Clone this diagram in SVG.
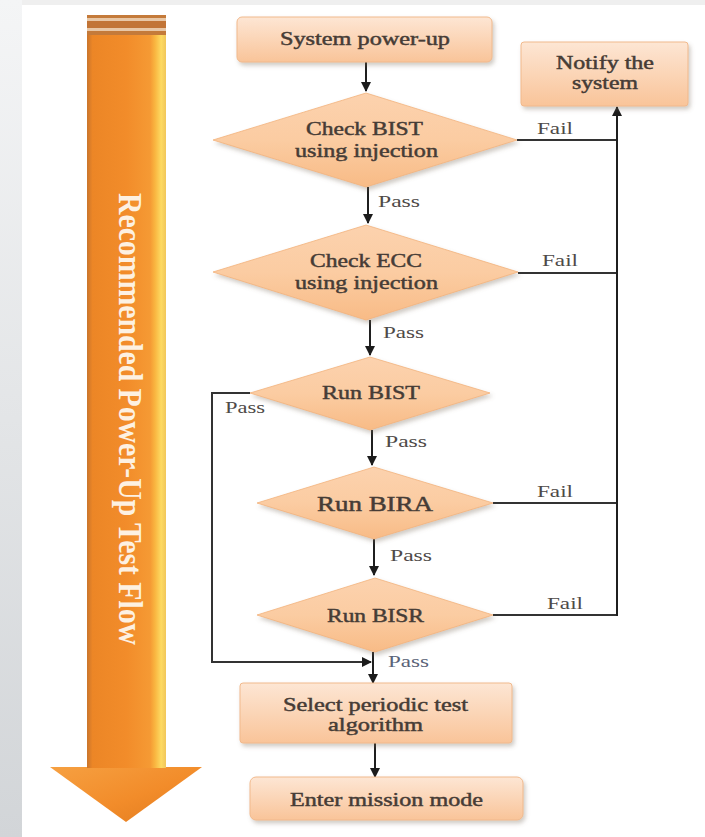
<svg xmlns="http://www.w3.org/2000/svg" width="705" height="837" viewBox="0 0 705 837">
  <defs>
    <linearGradient id="sideBg" x1="0" y1="0" x2="0" y2="1">
      <stop offset="0" stop-color="#f4f5f6"/>
      <stop offset="1" stop-color="#d2d5d8"/>
    </linearGradient>
    <linearGradient id="boxFill" x1="0" y1="0" x2="0" y2="1">
      <stop offset="0" stop-color="#fde6d4"/>
      <stop offset="1" stop-color="#f9c499"/>
    </linearGradient>
    <linearGradient id="diaFill" x1="0" y1="0" x2="0" y2="1">
      <stop offset="0" stop-color="#fcd2ae"/>
      <stop offset="0.5" stop-color="#fbcca2"/>
      <stop offset="1" stop-color="#f8bb86"/>
    </linearGradient>
    <linearGradient id="shaft" x1="0" y1="0" x2="1" y2="0">
      <stop offset="0" stop-color="#c9752c"/>
      <stop offset="0.07" stop-color="#ec8626"/>
      <stop offset="0.5" stop-color="#f28c2a"/>
      <stop offset="0.8" stop-color="#f59a34"/>
      <stop offset="0.86" stop-color="#f9b540"/>
      <stop offset="0.94" stop-color="#fdda62"/>
      <stop offset="1" stop-color="#f1c65a"/>
    </linearGradient>
    <linearGradient id="head" x1="0" y1="0" x2="1" y2="1">
      <stop offset="0" stop-color="#f6a041"/>
      <stop offset="0.55" stop-color="#f28c2a"/>
      <stop offset="1" stop-color="#e07a1e"/>
    </linearGradient>
    <filter id="shadow" x="-10%" y="-20%" width="125%" height="150%">
      <feDropShadow dx="2" dy="3" stdDeviation="2" flood-color="#7a6a5a" flood-opacity="0.35"/>
    </filter>
    <marker id="arrow" viewBox="0 0 10 10" refX="9" refY="5" markerWidth="10" markerHeight="10" markerUnits="userSpaceOnUse" orient="auto">
      <path d="M0,0 L10,5 L0,10 Z" fill="#1c1c1c"/>
    </marker>
  </defs>
  <style>
    .box { fill: url(#boxFill); stroke: #f1b98c; stroke-width: 1; filter: url(#shadow); }
    .dia { fill: url(#diaFill); stroke: #f3b27c; stroke-width: 0.8; filter: url(#shadow); }
    .lbl { font-family: "Liberation Serif", "Times New Roman", serif; font-size: 18px; fill: #463c36; stroke: #463c36; stroke-width: 0.45; }
    .big { font-size: 20px; }
    .tag { font-family: "Liberation Serif", "Times New Roman", serif; font-size: 16px; fill: #4e4a48; }
    .pass2 { fill: #5a6478; }
    .flow { fill: none; stroke: #1f1f1f; stroke-width: 2; }
    .fail { fill: none; stroke: #333333; stroke-width: 2; }
    .title { font-family: "Liberation Serif", "Times New Roman", serif; font-weight: bold; font-size: 28px; fill: #fdf1e2; }
  </style>

  <!-- page background -->
  <rect x="0" y="0" width="705" height="837" fill="#ffffff"/>
  <rect x="0" y="0" width="705" height="5" fill="#efefef"/>
  <rect x="0" y="0" width="22" height="837" fill="url(#sideBg)"/>

  <!-- big downward arrow with title -->
  <g id="flow-arrow">
    <polygon points="50,767 202,767 126,822" fill="url(#head)"/>
    <rect x="87" y="15" width="79" height="753" fill="url(#shaft)"/>
    <rect x="87" y="15" width="79" height="3" fill="#c47a3a"/>
    <rect x="87" y="18" width="79" height="3" fill="#e8c7a6"/>
    <rect x="87" y="21" width="79" height="7" fill="#c27436"/>
    <rect x="87" y="28" width="79" height="3" fill="#e8c7a6"/>
    <rect x="87" y="31" width="79" height="4" fill="#c47a3a"/>
    <text class="title" transform="translate(119,193) rotate(90) scale(1,1.2)" x="0" y="0" textLength="452" lengthAdjust="spacingAndGlyphs">Recommended Power-Up Test Flow</text>
  </g>

  <!-- connectors -->
  <g id="connectors">
    <line class="flow" x1="366" y1="62" x2="366" y2="91" marker-end="url(#arrow)"/>
    <line class="flow" x1="368" y1="187" x2="368" y2="223" marker-end="url(#arrow)"/>
    <line class="flow" x1="370" y1="320" x2="370" y2="355" marker-end="url(#arrow)"/>
    <line class="flow" x1="372" y1="430" x2="372" y2="465" marker-end="url(#arrow)"/>
    <line class="flow" x1="374" y1="539" x2="374" y2="575" marker-end="url(#arrow)"/>
    <line class="flow" x1="373" y1="652" x2="373" y2="683" marker-end="url(#arrow)"/>
    <line class="flow" x1="375" y1="743" x2="375" y2="777" marker-end="url(#arrow)"/>
    <!-- bypass loop from Run BIST -->
    <polyline class="fail" points="250,393 212,393 212,662 371,662" marker-end="url(#arrow)"/>
    <!-- fail paths to notify -->
    <line class="fail" x1="517" y1="140" x2="618" y2="140"/>
    <line class="fail" x1="518" y1="273" x2="618" y2="273"/>
    <line class="fail" x1="493" y1="503" x2="618" y2="503"/>
    <line class="fail" x1="493" y1="615" x2="618" y2="615"/>
    <polyline class="flow" points="617,616 617,107" marker-end="url(#arrow)"/>
    <!-- labels -->
    <text class="tag" x="537" y="134" textLength="36" lengthAdjust="spacingAndGlyphs">Fail</text>
    <text class="tag" x="542" y="266" textLength="36" lengthAdjust="spacingAndGlyphs">Fail</text>
    <text class="tag" x="537" y="497" textLength="36" lengthAdjust="spacingAndGlyphs">Fail</text>
    <text class="tag" x="547" y="609" textLength="36" lengthAdjust="spacingAndGlyphs">Fail</text>
    <text class="tag" x="378" y="207" textLength="42" lengthAdjust="spacingAndGlyphs">Pass</text>
    <text class="tag" x="383" y="338" textLength="41" lengthAdjust="spacingAndGlyphs">Pass</text>
    <text class="tag" x="385" y="447" textLength="42" lengthAdjust="spacingAndGlyphs">Pass</text>
    <text class="tag" x="390" y="561" textLength="42" lengthAdjust="spacingAndGlyphs">Pass</text>
    <text class="tag pass2" x="388" y="667" textLength="41" lengthAdjust="spacingAndGlyphs">Pass</text>
    <text class="tag" x="225" y="413" textLength="40" lengthAdjust="spacingAndGlyphs">Pass</text>
  </g>

  <g id="power-up">
    <rect class="box" x="237" y="17" width="255" height="45" rx="5"/>
    <text class="lbl" x="280" y="45" textLength="170" lengthAdjust="spacingAndGlyphs">System power-up</text>
  </g>

  <g id="notify">
    <rect class="box" x="521" y="42" width="167" height="64" rx="3"/>
    <text class="lbl" x="556" y="69" textLength="98" lengthAdjust="spacingAndGlyphs">Notify the</text>
    <text class="lbl" x="572" y="89" textLength="66" lengthAdjust="spacingAndGlyphs">system</text>
  </g>

  <g id="check-bist">
    <polygon class="dia" points="213,140 366,93 517,140 366,187"/>
    <text class="lbl" x="306" y="135" textLength="117" lengthAdjust="spacingAndGlyphs">Check BIST</text>
    <text class="lbl" x="295" y="157" textLength="143" lengthAdjust="spacingAndGlyphs">using injection</text>
  </g>

  <g id="check-ecc">
    <polygon class="dia" points="213,272 366,225 518,272 366,320"/>
    <text class="lbl" x="310" y="267" textLength="112" lengthAdjust="spacingAndGlyphs">Check ECC</text>
    <text class="lbl" x="295" y="289" textLength="143" lengthAdjust="spacingAndGlyphs">using injection</text>
  </g>

  <g id="run-bist">
    <polygon class="dia" points="250,393 370,357 490,393 370,430"/>
    <text class="lbl" x="322" y="399" textLength="98" lengthAdjust="spacingAndGlyphs">Run BIST</text>
  </g>

  <g id="run-bira">
    <polygon class="dia" points="257,503 374,467 493,503 374,539"/>
    <text class="lbl big" x="317" y="511" textLength="116" lengthAdjust="spacingAndGlyphs">Run BIRA</text>
  </g>

  <g id="run-bisr">
    <polygon class="dia" points="257,615 375,578 493,615 375,652"/>
    <text class="lbl" x="327" y="622" textLength="97" lengthAdjust="spacingAndGlyphs">Run BISR</text>
  </g>

  <g id="select-algorithm">
    <rect class="box" x="240" y="683" width="272" height="60" rx="3"/>
    <text class="lbl" x="283" y="711" textLength="185" lengthAdjust="spacingAndGlyphs">Select periodic test</text>
    <text class="lbl" x="328" y="731" textLength="95" lengthAdjust="spacingAndGlyphs">algorithm</text>
  </g>

  <g id="mission-mode">
    <rect class="box" x="250" y="777" width="273" height="43" rx="6"/>
    <text class="lbl" x="290" y="806" textLength="193" lengthAdjust="spacingAndGlyphs">Enter mission mode</text>
  </g>
</svg>
